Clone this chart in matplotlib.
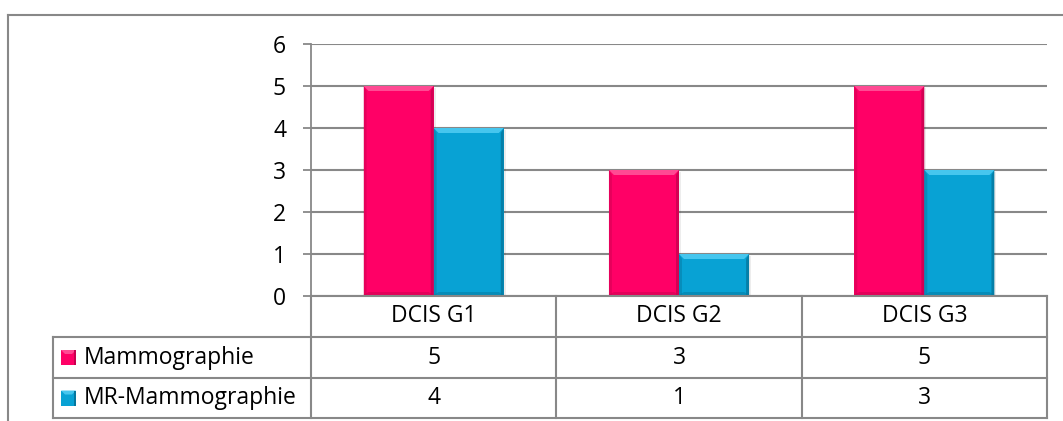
import matplotlib
matplotlib.use("Agg")
import matplotlib.pyplot as plt
from matplotlib.patches import Polygon, Rectangle
from matplotlib.lines import Line2D

categories = ["DCIS G1", "DCIS G2", "DCIS G3"]
series_names = ["Mammographie", "MR-Mammographie"]
mammographie = [5, 3, 5]
mr_mammographie = [4, 1, 3]
y_ticks = [0, 1, 2, 3, 4, 5, 6]

FACE = ["#FF0066", "#08A2D4"]
LIGHT = ["#FF4A93", "#46C6EE"]
DARK = ["#C8004F", "#05779E"]
GRID = "#888888"
FS = 16.5

W, H = 1063, 421
plt.rcParams["font.family"] = ["Open Sans", "DejaVu Sans"]
fig = plt.figure(figsize=(W / 100, H / 100), dpi=100)

# pixel layout of the plot area
x_left, x_right, y_top, y_zero = 311, 1047, 44, 296
ax = fig.add_axes([x_left / W, (H - y_zero) / H, (x_right - x_left) / W, (y_zero - y_top) / H])
ax.set_xlim(0, len(categories))
ax.set_ylim(0, 6)
ax.set_yticks(y_ticks)
ax.set_yticklabels([str(t) for t in y_ticks], fontsize=FS)
ax.tick_params(axis="y", length=6, width=1.3, color=GRID, pad=12)
ax.set_xticks([])
for s in ["top", "right", "bottom"]:
    ax.spines[s].set_visible(False)
ax.spines["left"].set_color(GRID)
ax.spines["left"].set_linewidth(1.3)
for t in y_ticks:
    ax.axhline(t, color=GRID, lw=1.5, zorder=0)

bar_w = 1 / 3.5
series = [mammographie, mr_mammographie]
bars = []
for i, vals in enumerate(series):
    xs = [c + 0.5 - bar_w + i * bar_w + bar_w / 2 for c in range(len(categories))]
    bc = ax.bar(xs, vals, width=bar_w, color=FACE[i], edgecolor="none", zorder=2)
    bars.append(bc)

# overlay in pixel coordinates (y downwards) for bevels, table and frame
ov = fig.add_axes([0, 0, 1, 1], zorder=5)
ov.set_xlim(0, W)
ov.set_ylim(H, 0)
ov.axis("off")


def to_px(x, y):
    px, py = ax.transData.transform((x, y))
    return px, H - py


def bevel(x0, y0, x1, y1, k, b=5):
    # (x0, y0) top-left, (x1, y1) bottom-right in pixels
    ov.add_patch(Rectangle((x0 + 2, y0 + 2), x1 - x0, y1 - y0, color="#000000", alpha=0.07, lw=0, zorder=1))
    ov.add_patch(Rectangle((x0, y0), x1 - x0, y1 - y0, color=FACE[k], lw=0, zorder=2))
    ov.add_patch(Polygon([(x0, y0), (x1, y0), (x1 - b, y0 + b), (x0 + b, y0 + b)], color=LIGHT[k], lw=0, zorder=3))
    ov.add_patch(Polygon([(x0, y0), (x0 + b * 0.6, y0 + b), (x0 + b * 0.6, y1), (x0, y1)], color=DARK[k], alpha=0.45, lw=0, zorder=3))
    ov.add_patch(Polygon([(x1, y0), (x1 - b * 0.6, y0 + b), (x1 - b * 0.6, y1), (x1, y1)], color=DARK[k], alpha=0.8, lw=0, zorder=3))
    ov.add_patch(Polygon([(x0, y1), (x1, y1), (x1 - b, y1 - 3), (x0 + b, y1 - 3)], color=DARK[k], alpha=0.5, lw=0, zorder=3))


for k, bc in enumerate(bars):
    for p in bc.patches:
        x0, y0 = to_px(p.get_x(), p.get_height())
        x1, y1 = to_px(p.get_x() + p.get_width(), 0)
        bevel(x0, y0, x1, y1 - 1, k)
        p.set_visible(False)

lw = 1.5
def line(xs, ys):
    ov.add_line(Line2D(xs, ys, color=GRID, lw=lw, zorder=4))

# outer chart frame
line([8, W], [15, 15])
line([8, 8], [15, H])

# data table
col_edges = [x_left + (x_right - x_left) * i / len(categories) for i in range(len(categories) + 1)]
row_top, row1, row2, row_bot = 296, 337, 378, 418
tab_left = 53
line([x_left, x_left], [row_top, row_bot])
for xe in col_edges[1:]:
    line([xe, xe], [row_top, row_bot])
line([x_left, x_right], [row_top, row_top])
for yy in [row1, row2, row_bot]:
    line([tab_left, x_right], [yy, yy])
line([tab_left, tab_left], [row1, row_bot])

for i, cat in enumerate(categories):
    cx = (col_edges[i] + col_edges[i + 1]) / 2
    ov.text(cx, (row_top + row1) / 2, cat, ha="center", va="center", fontsize=FS, zorder=6)
    for r, vals in enumerate(series):
        cy = [(row1 + row2) / 2, (row2 + row_bot) / 2][r]
        ov.text(cx, cy, str(vals[i]), ha="center", va="center", fontsize=FS, zorder=6)

for r, name in enumerate(series_names):
    cy = [(row1 + row2) / 2, (row2 + row_bot) / 2][r]
    s = 15
    ov.add_patch(Rectangle((61, cy - s / 2), s, s, color=FACE[r], lw=0, zorder=6))
    ov.add_patch(Polygon([(61, cy - s / 2), (61 + s, cy - s / 2), (61 + s - 4, cy - s / 2 + 4), (65, cy - s / 2 + 4)], color=LIGHT[r], lw=0, zorder=7))
    ov.add_patch(Rectangle((61 + s - 2, cy - s / 2), 2, s, color=DARK[r], lw=0, zorder=7))
    ov.text(84, cy, name, ha="left", va="center", fontsize=FS, zorder=6)

fig.savefig("out.png", dpi=100)
